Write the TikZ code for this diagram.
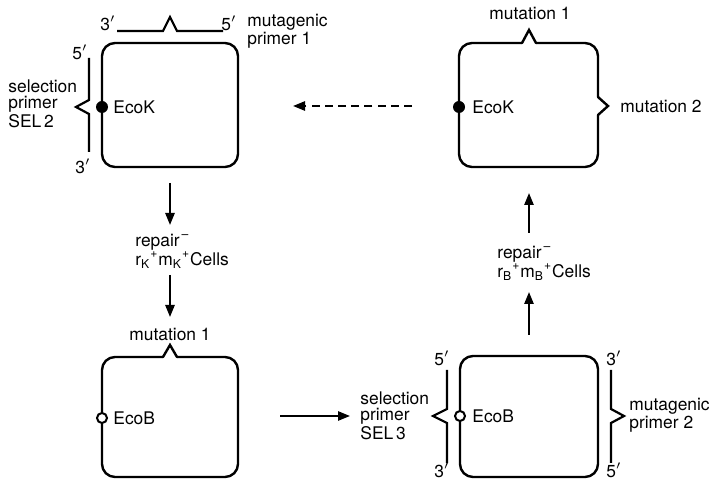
\documentclass[tikz,border=0pt]{standalone}
\usepackage{fontspec}
\setmainfont{TeX Gyre Heros}
\usetikzlibrary{arrows.meta}
\begin{document}
\begin{tikzpicture}[x=0.5pt,y=-0.5pt,
  font=\fontsize{8.7}{8}\selectfont,
  box/.style={line width=1.2pt, line join=round, line cap=round, rounded corners=6.5pt},
  bump/.style={line width=1.2pt, line join=miter, line cap=round, sharp corners},
  conn/.style={line width=1pt, -{Triangle[length=6pt,width=4.6pt]}},
  primer/.style={line width=1.1pt, line join=miter},
  lbl/.style={inner sep=0pt, align=left, anchor=west},
  ctr/.style={inner sep=0pt},
  fulldot/.style={circle, fill, inner sep=0pt, minimum size=6pt},
  opendot/.style={circle, draw, fill=white, line width=1pt, inner sep=0pt, minimum size=5pt}]
\useasboundingbox (0,0) rectangle (712,480);

% ---------- top-left plasmid (EcoK) ----------
\draw[box] (102,107) -- (102,43) -- (238,43) -- (238,167) -- (102,167) -- cycle;
\node[fulldot] (dotA) at (102,107) {};
\node[lbl] (ecoA) at (113,107) {EcoK};
% mutagenic primer 1
\draw[primer] (117,31) -- (163,31) -- (170,17) -- (177,31) -- (223,31);
\node[ctr] (p1a) at (108,23) {3$'$};
\node[ctr] (p1b) at (229,23) {5$'$};
\node[lbl] (mp1) at (247,31) {mutagenic\\primer 1};
% selection primer SEL 2
\draw[primer] (89,58) -- (89,100) -- (76,107) -- (89,114) -- (89,152);
\node[ctr] (s2a) at (80,52) {5$'$};
\node[ctr] (s2b) at (83,166) {3$'$};
\node[lbl] (sel2) at (8,104) {selection\\primer\\SEL\,2};

% ---------- top-right plasmid (EcoK) ----------
\draw[box] (536,43) -- (598,43) -- (598,97);
\draw[box] (598,115) -- (598,167) -- (459,167) -- (459,43) -- (522,43);
\draw[bump] (522,43) -- (529,30) -- (536,43);
\draw[bump] (598,97) -- (608,106) -- (598,115);
\node[fulldot] (dotB) at (459,107) {};
\node[lbl] (ecoB) at (472,107) {EcoK};
\node[ctr] (mu1t) at (530,13) {mutation 1};
\node[lbl] (mu2) at (620,106) {mutation 2};

% ---------- bottom-left plasmid (EcoB) ----------
\draw[box] (177,357) -- (238,357) -- (238,477) -- (102,477) -- (102,357) -- (163,357);
\draw[bump] (163,357) -- (170,345) -- (177,357);
\node[opendot] (dotC) at (102,418) {};
\node[lbl] (ecoC) at (113,418) {EcoB};
\node[ctr] (mu1b) at (170,334) {mutation 1};

% ---------- bottom-right plasmid (EcoB) ----------
\draw[box] (460,416) -- (460,356) -- (598,356) -- (598,477) -- (460,477) -- cycle;
\node[opendot] (dotD) at (460,416) {};
\node[lbl] (ecoD) at (472,416) {EcoB};
% selection primer SEL 3
\draw[primer] (447,370) -- (447,409) -- (433,416) -- (447,423) -- (447,463);
\node[ctr] (s3a) at (442,358) {5$'$};
\node[ctr] (s3b) at (442,470) {3$'$};
\node[lbl] (sel3) at (360,416) {selection\\primer\\SEL\,3};
% mutagenic primer 2
\draw[primer] (611,370) -- (611,409) -- (624,416) -- (611,423) -- (611,463);
\node[ctr] (p2a) at (614,358) {3$'$};
\node[ctr] (p2b) at (614,470) {5$'$};
\node[lbl] (mp2) at (629,415) {mutagenic\\primer 2};

% ---------- repair cells labels ----------
\node[lbl] (repK) at (135,251) {repair\textsuperscript{\,--}\\r\textsubscript{K}\textsuperscript{+}m\textsubscript{K}\textsuperscript{+}Cells};
\node[lbl] (repB) at (497,263) {repair\textsuperscript{\,--}\\r\textsubscript{B}\textsuperscript{+}m\textsubscript{B}\textsuperscript{+}Cells};

% ---------- connectors ----------
\coordinate (a1s) at (170,183);
\coordinate (a1e) at (170,225);
\coordinate (a2s) at (170,275);
\coordinate (a2e) at (170,317);
\coordinate (a3s) at (280,416);
\coordinate (a3e) at (350,416);
\coordinate (a4s) at (529,335);
\coordinate (a4e) at (529,292);
\coordinate (a5s) at (529,233);
\coordinate (a5e) at (529,193);
\coordinate (a6s) at (412,106);
\coordinate (a6e) at (293,106);
\draw[conn] (a1s) -- (a1e);
\draw[conn] (a2s) -- (a2e);
\draw[conn] (a3s) -- (a3e);
\draw[conn] (a4s) -- (a4e);
\draw[conn] (a5s) -- (a5e);
\draw[conn, dash pattern=on 4pt off 2.6pt] (a6s) -- (a6e);
\end{tikzpicture}
\end{document}
